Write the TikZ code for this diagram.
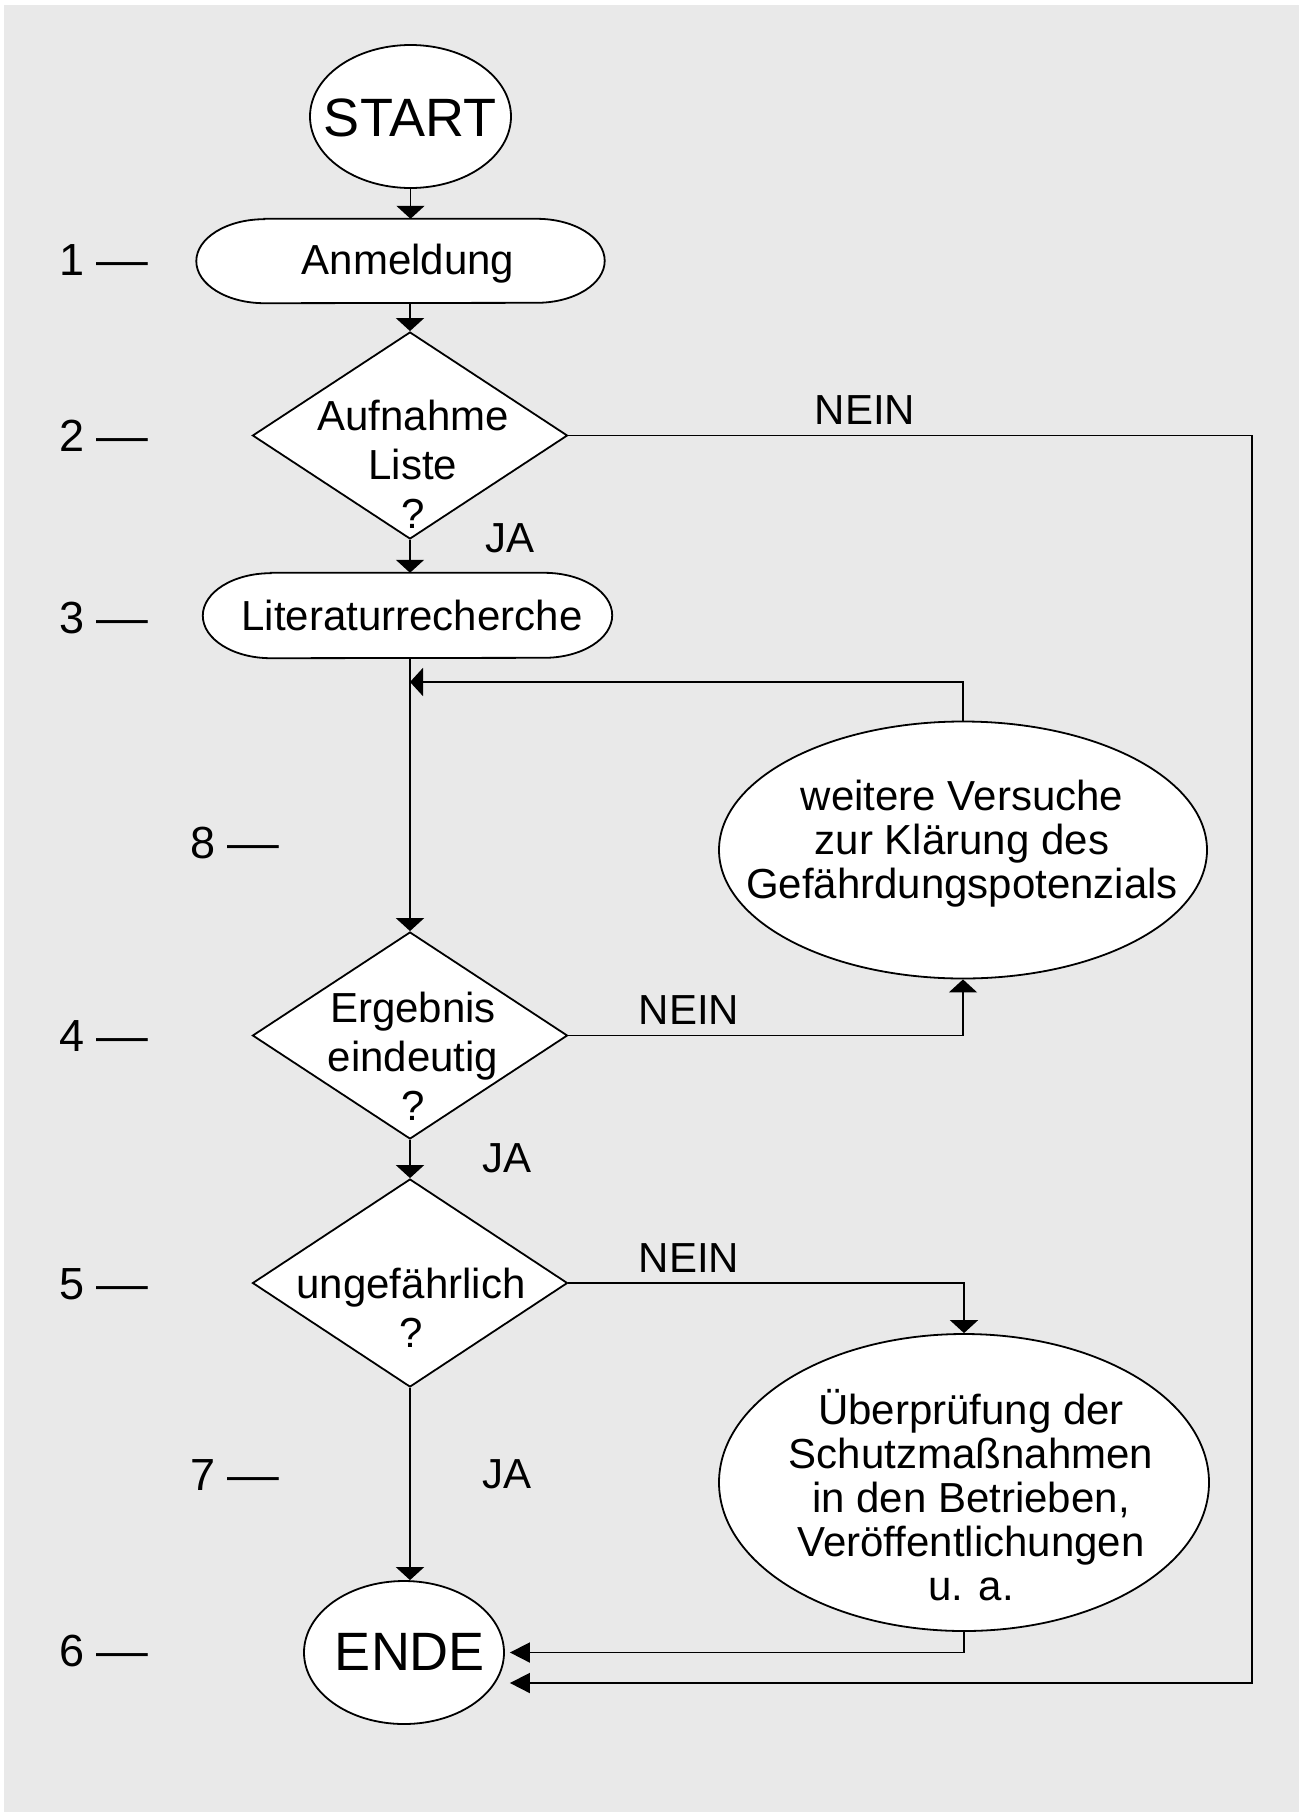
\documentclass[tikz,border=0pt]{standalone}
\usepackage{fontspec}
\setmainfont{Liberation Sans}
\usepackage{graphicx}
\usetikzlibrary{shapes.geometric,arrows.meta,calc}
\definecolor{bgray}{RGB}{233,233,233}
\newcommand{\dsh}{\scalebox{1.15}[1]{—}}
\begin{document}
\begin{tikzpicture}[x=1pt,y=-1pt,
  shp/.style={draw=black,line width=1.8pt,fill=white,inner sep=0pt},
  ell/.style={shp,ellipse},
  dia/.style={shp,diamond},
  geo/.style={inner sep=0pt},
  boxtxt/.style={font=\fontsize{42}{44}\selectfont,inner sep=0pt,anchor=base},
  diatxt/.style={font=\fontsize{42}{49}\selectfont,inner sep=0pt,anchor=base},
  bigtxt/.style={font=\fontsize{54}{60}\selectfont,inner sep=0pt,anchor=base},
  numlab/.style={font=\fontsize{45}{50}\selectfont,inner sep=0pt,anchor=base west},
  lab/.style={font=\fontsize{42}{44}\selectfont,inner sep=0pt,anchor=base},
  conn/.style={line width=1.8pt},
  va/.style={conn,-{Triangle[length=13pt,width=28pt]}},
  ha/.style={conn,-{Triangle[length=20pt,width=20pt]}},
]
\fill[white] (0,0) rectangle (1305,1812);
\fill[bgray] (4,5) rectangle (1299,1812);
\useasboundingbox (0,0) rectangle (1305,1812);

% START
\node[ell,minimum width=201pt,minimum height=143pt] (start) at (410.5,116.5) {};
\node[bigtxt] (startt) at (410,136) {START};

% Anmeldung
\node[geo,minimum width=408pt,minimum height=84pt] (anm) at (400.5,261) {};
\draw[shp] ([xshift=68pt]anm.north west) -- ([xshift=-68pt]anm.north east)
  arc[start angle=90,end angle=-90,x radius=68pt,y radius=42pt]
  -- ([xshift=68pt]anm.south west)
  arc[start angle=270,end angle=90,x radius=68pt,y radius=42pt] -- cycle;
\node[boxtxt] (anmt) at (408,274) {Anmeldung};

% Diamond 2
\node[dia,minimum width=315pt,minimum height=207pt] (d2) at (410,435.5) {};
\node[diatxt] (d2t) at (413,430) {\begin{tabular}[t]{@{}c@{}}Aufnahme\\Liste\\?\end{tabular}};

% Literaturrecherche
\node[geo,minimum width=409pt,minimum height=85pt] (lit) at (407.5,615.5) {};
\draw[shp] ([xshift=68pt]lit.north west) -- ([xshift=-68pt]lit.north east)
  arc[start angle=90,end angle=-90,x radius=68pt,y radius=42.5pt]
  -- ([xshift=68pt]lit.south west)
  arc[start angle=270,end angle=90,x radius=68pt,y radius=42.5pt] -- cycle;
\node[boxtxt] (litt) at (412,630) {Literaturrecherche};

% weitere Versuche
\node[ell,minimum width=488pt,minimum height=257pt] (ver) at (963,850) {};
\node[boxtxt] (vert) at (962,810) {\begin{tabular}[t]{@{}c@{}}weitere Versuche\\zur Klärung des\\Gefährdungspotenzials\end{tabular}};

% Diamond 4
\node[dia,minimum width=315pt,minimum height=207pt] (d4) at (410,1035.5) {};
\node[diatxt] (d4t) at (413,1022) {\begin{tabular}[t]{@{}c@{}}Ergebnis\\eindeutig\\?\end{tabular}};

% Diamond 5
\node[dia,minimum width=315pt,minimum height=208pt] (d5) at (410,1283) {};
\node[diatxt] (d5t) at (411,1298) {\begin{tabular}[t]{@{}c@{}}ungefährlich\\?\end{tabular}};

% Überprüfung
\node[ell,minimum width=490pt,minimum height=297pt] (ub) at (964,1482.5) {};
\node[boxtxt] (ubt) at (971,1424) {\begin{tabular}[t]{@{}c@{}}Überprüfung der\\Schutzmaßnahmen\\in den Betrieben,\\Veröffentlichungen\\u. a.\end{tabular}};

% ENDE
\node[ell,minimum width=200pt,minimum height=143pt] (ende) at (404,1652.5) {};
\node[bigtxt] (endet) at (410,1670) {ENDE};

% helper coordinates
\coordinate (fb) at (410,682);
\coordinate (far) at (1252,1683);

% connectors
\draw[va] (start.south) -- (start.south |- anm.north);
\draw[va] (d2.north |- anm.south) -- (d2.north);
\draw[va] (d2.south) -- (d2.south |- lit.north);
\draw[va] (d2.south |- lit.south) -- (d4.north);
\draw[va] (ver.north) |- (fb);
\draw[va] (d4.east) -| (ver.south);
\draw[va] (d4.south) -- (d5.north);
\draw[va] (d5.east) -| (ub.north);
\draw[va] (d5.south) -- (d5.south |- ende.north);
\draw[ha] (ub.south) |- ([xshift=5pt]ende.east);
\draw[ha] (d2.east) -| (far) -- ([xshift=5pt,yshift=-30.5pt]ende.east);

% branch labels
\node[lab] (nein1) at (865,424) {NEIN};
\node[lab] (ja1) at (510,552) {JA};
\node[lab] (nein2) at (689,1024) {NEIN};
\node[lab] (ja2) at (507.5,1172) {JA};
\node[lab] (nein3) at (689,1272) {NEIN};
\node[lab] (ja3) at (507,1488) {JA};

% row numbers
\node[numlab] (n1) at (59,275) {1 \dsh};
\node[numlab] (n2) at (59,451) {2 \dsh};
\node[numlab] (n3) at (59,633) {3 \dsh};
\node[numlab] (n4) at (59,1051) {4 \dsh};
\node[numlab] (n5) at (59,1299) {5 \dsh};
\node[numlab] (n6) at (59,1666) {6 \dsh};
\node[numlab] (n7) at (190,1490) {7 \dsh};
\node[numlab] (n8) at (190,858) {8 \dsh};
\end{tikzpicture}
\end{document}
